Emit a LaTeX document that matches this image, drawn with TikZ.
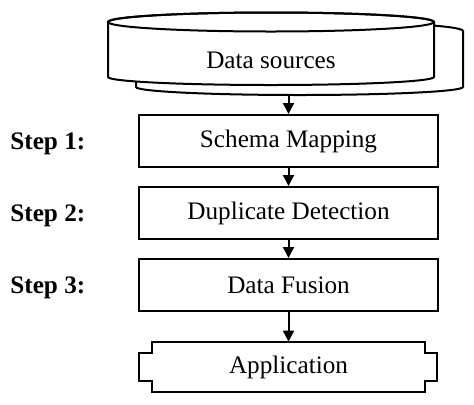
\documentclass[tikz,border=0pt]{standalone}
\usepackage{fontspec}
\setmainfont{Liberation Serif}
\usepackage{tikz}
\usetikzlibrary{calc,arrows.meta}

\tikzset{
  stepbox/.style={draw, line width=1pt, minimum width=149.5pt, minimum height=26pt, inner sep=0pt},
  steplabel/.style={anchor=west, inner sep=0pt, font=\fontsize{12.6}{15}\bfseries\selectfont},
  flow/.style={line width=1pt, -{Triangle[length=5.5pt,width=5.5pt]}}
}

\begin{document}
\begin{tikzpicture}[x=0.5pt, y=0.5pt, font=\fontsize{12.6}{15}\selectfont]
\useasboundingbox (0,0) rectangle (474,404);

%back cylinder
\draw [line width=1pt, fill=white] (136,373) -- (136,317)
      arc [start angle=180, end angle=360, x radius=163.5, y radius=8]
      -- (463,373)
      arc [start angle=0, end angle=180, x radius=163.5, y radius=9.5] -- cycle;
%front cylinder
\draw [line width=1pt, fill=white] (108,382) -- (108,327)
      arc [start angle=180, end angle=360, x radius=163, y radius=8]
      -- (434,382)
      arc [start angle=0, end angle=180, x radius=163, y radius=9.5] -- cycle;
\draw [line width=1pt] (271,382) ellipse [x radius=163, y radius=9.5];
%
\node (src) at (271,343.5) {Data sources};
\coordinate (srcbot) at (288.5,309);

%steps
\node[stepbox] (map) at (288.5,263) {Schema Mapping};
\node[stepbox] (dup) at (288.5,191) {Duplicate Detection};
\node[stepbox] (fus) at (288.5,119) {Data Fusion};
%
\node[minimum width=136.5pt, minimum height=25pt, inner sep=0pt] (app) at (288.5,37) {Application};
\draw [line width=1pt] (app.north west) -- (app.north east) -- ++(0,-11) -- ++(12,0)
      -- ++(0,-28) -- ++(-12,0) -- (app.south east) -- (app.south west)
      -- ++(0,11) -- ++(-13,0) -- ++(0,28) -- ++(13,0) -- cycle;

%labels
\node[steplabel] (s1) at (10,260) {Step 1:};
\node[steplabel] (s2) at (10,188) {Step 2:};
\node[steplabel] (s3) at (10,116) {Step 3:};

%arrows
\draw [flow] (srcbot) -- (map.north);
\draw [flow] (map.south) -- (dup.north);
\draw [flow] (dup.south) -- (fus.north);
\draw [flow] (fus.south) -- (app.north);

\end{tikzpicture}
\end{document}
